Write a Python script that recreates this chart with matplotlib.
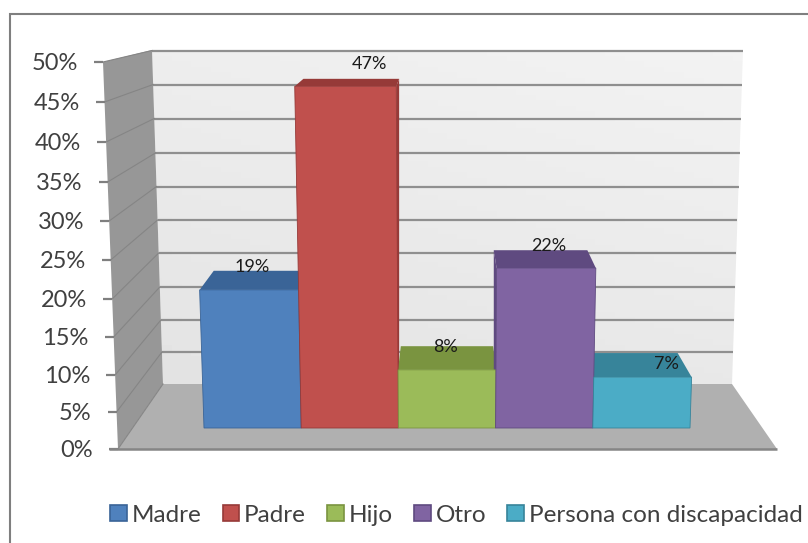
import matplotlib
matplotlib.use("Agg")
import matplotlib.pyplot as plt
import numpy as np
from matplotlib.patches import Patch, Polygon

# datos
categorias = ["Madre", "Padre", "Hijo", "Otro", "Persona con discapacidad"]
valores = [19, 47, 8, 22, 7]
colores = ["#4f81bd", "#c0504d", "#9bbb59", "#8064a2", "#4bacc6"]
colores_tapa = ["#3a6497", "#963a38", "#7a9440", "#5f4a80", "#37849a"]
marcas_eje = [0, 5, 10, 15, 20, 25, 30, 35, 40, 45, 50]

# offset de la etiqueta sobre cada barra, en pixeles
etiqueta_dx = [0, 20, -1, 5, 25]
etiqueta_dy = [23, 22, 23, 22, 13]

# geometria de la "camara" (pixeles de la imagen)
W, H = 808, 543
ANCHO_BARRA = 97.2
PX_POR_PUNTO = 7.27
BASE_Y = 428
CENTRO_X = 447
FUGA_Y = -45
FONDO = 0.943
ABRE = 0.00013

marca_y = [449, 412, 375, 337, 299, 260, 221, 182, 142, 102, 62]
rejilla_y = [384, 352, 320, 287, 253, 220, 186.5, 153, 118.5, 84.5, 50.5]

plt.rcParams["font.family"] = ["Lato", "DejaVu Sans"]
TEXTO = "#404040"

fig = plt.figure(figsize=(W / 100, H / 100), dpi=100)

# capa de escena, en pixeles
esc = fig.add_axes([0, 0, 1, 1])
esc.set_xlim(0, W)
esc.set_ylim(H, 0)
esc.axis("off")


def borde_pared(y, x_arriba, x_abajo):
    return x_arriba + (x_abajo - x_arriba) * (y - 50) / (384 - 50)


def borde_frente(y):
    return 103 + (118 - 103) * (y - 62) / (449 - 62)


# pared del fondo con degradado
pared = [(152, 50), (743, 50), (732, 384), (163, 384)]
gx, gy = np.meshgrid(np.linspace(0, 1, 60), np.linspace(0, 1, 60))
grad = 0.95 - 0.04 * gy - 0.02 * (1 - gx)
img = esc.imshow(grad, extent=(152, 743, 384, 50), cmap="gray", vmin=0, vmax=1,
                 aspect="auto", zorder=1)
img.set_clip_path(Polygon(pared, transform=esc.transData))
esc.set_xlim(0, W)
esc.set_ylim(H, 0)

# pared izquierda y suelo
esc.add_patch(Polygon([(103, 62), (152, 50), (163, 384), (118, 449)], fc="#979797", ec="none", zorder=2))
esc.add_patch(Polygon([(118, 449), (163, 384), (732, 384), (777, 449)], fc="#b0b0b0", ec="none", zorder=2))

# rejilla y marcas
for my, ry in zip(marca_y, rejilla_y):
    xi = borde_pared(ry, 152, 163)
    xd = borde_pared(ry, 743, 732)
    xf = borde_frente(my)
    if ry != rejilla_y[0]:
        esc.plot([xi, xd], [ry, ry], color="#8f8f8f", lw=1.6, zorder=3, solid_capstyle="butt")
    esc.plot([xf, xi], [my, ry], color="#858585", lw=0.8, zorder=3)
    esc.plot([xf - 9, xf], [my, my], color="#7f7f7f", lw=1.6, zorder=3, solid_capstyle="butt")
esc.plot([109, 777], [449, 449], color="#858585", lw=1.8, zorder=3, solid_capstyle="butt")

for m, my in zip(marcas_eje, marca_y):
    esc.text(borde_frente(my) - 25, my + 1.5, f"{m}%", ha="right", va="center",
             fontsize=17, color=TEXTO, zorder=4)

# marco del grafico (recortado a la derecha y abajo)
esc.plot([9.5, 9.5, W], [H, 14, 14], color="#7f7f7f", lw=1.5, zorder=4, solid_joinstyle="miter")

# capa de barras, en unidades de categoria y porcentaje
ax = fig.add_axes([0, 0, 1, 1], facecolor="none")
ax.set_xlim(2 - CENTRO_X / ANCHO_BARRA, 2 + (W - CENTRO_X) / ANCHO_BARRA)
ax.set_ylim(-(H - BASE_Y) / PX_POR_PUNTO, BASE_Y / PX_POR_PUNTO)
ax.axis("off")

x_fuga = 2
y_fuga = (BASE_Y - FUGA_Y) / PX_POR_PUNTO


def abre(x, v):
    # las barras se abren un poco hacia arriba
    return x_fuga + (x - x_fuga) * (1 + ABRE * v * PX_POR_PUNTO)


def atras(x, y):
    return x_fuga + (x - x_fuga) * FONDO, y_fuga + (y - y_fuga) * FONDO


# tapas y caras laterales primero
for i, v in enumerate(valores):
    izq, der = abre(i - 0.5, v), abre(i + 0.5, v)
    bi = atras(izq, v)
    bd = atras(der, v)
    if i + 0.5 < x_fuga:
        ax.fill([der, bd[0], bd[0], der], [v, bd[1], 0, 0], color=colores_tapa[i], lw=0)
    if i - 0.5 > x_fuga:
        ax.fill([izq, bi[0], bi[0], izq], [v, bi[1], 0, 0], color=colores_tapa[i], lw=0)
    ax.fill([izq, der, bd[0], bi[0]], [v, v, bd[1], bi[1]], color=colores_tapa[i], lw=0)

# caras frontales
for i, v in enumerate(valores):
    izq, der = abre(i - 0.5, v), abre(i + 0.5, v)
    ax.fill([i - 0.5, i + 0.5, der, izq], [0, 0, v, v], fc=colores[i],
            ec=colores_tapa[i], lw=0.6, zorder=3)

for i, v in enumerate(valores):
    ax.annotate(f"{v}%", xy=(i, v), xytext=(etiqueta_dx[i], etiqueta_dy[i]),
                textcoords="offset pixels", ha="center", va="center",
                fontsize=13, color="#1a1a1a", zorder=5)

# leyenda
handles = [Patch(fc=c, ec=t, lw=1.2) for c, t in zip(colores, colores_tapa)]
fig.legend(handles, categorias, ncol=5, loc="center left", bbox_to_anchor=(110 / W, 1 - 515 / H),
           frameon=False, fontsize=17.5, labelcolor=TEXTO, handlelength=0.68,
           handleheight=0.68, handletextpad=0.2, columnspacing=0.88, borderpad=0, borderaxespad=0)

fig.savefig("out.png", dpi=100)
